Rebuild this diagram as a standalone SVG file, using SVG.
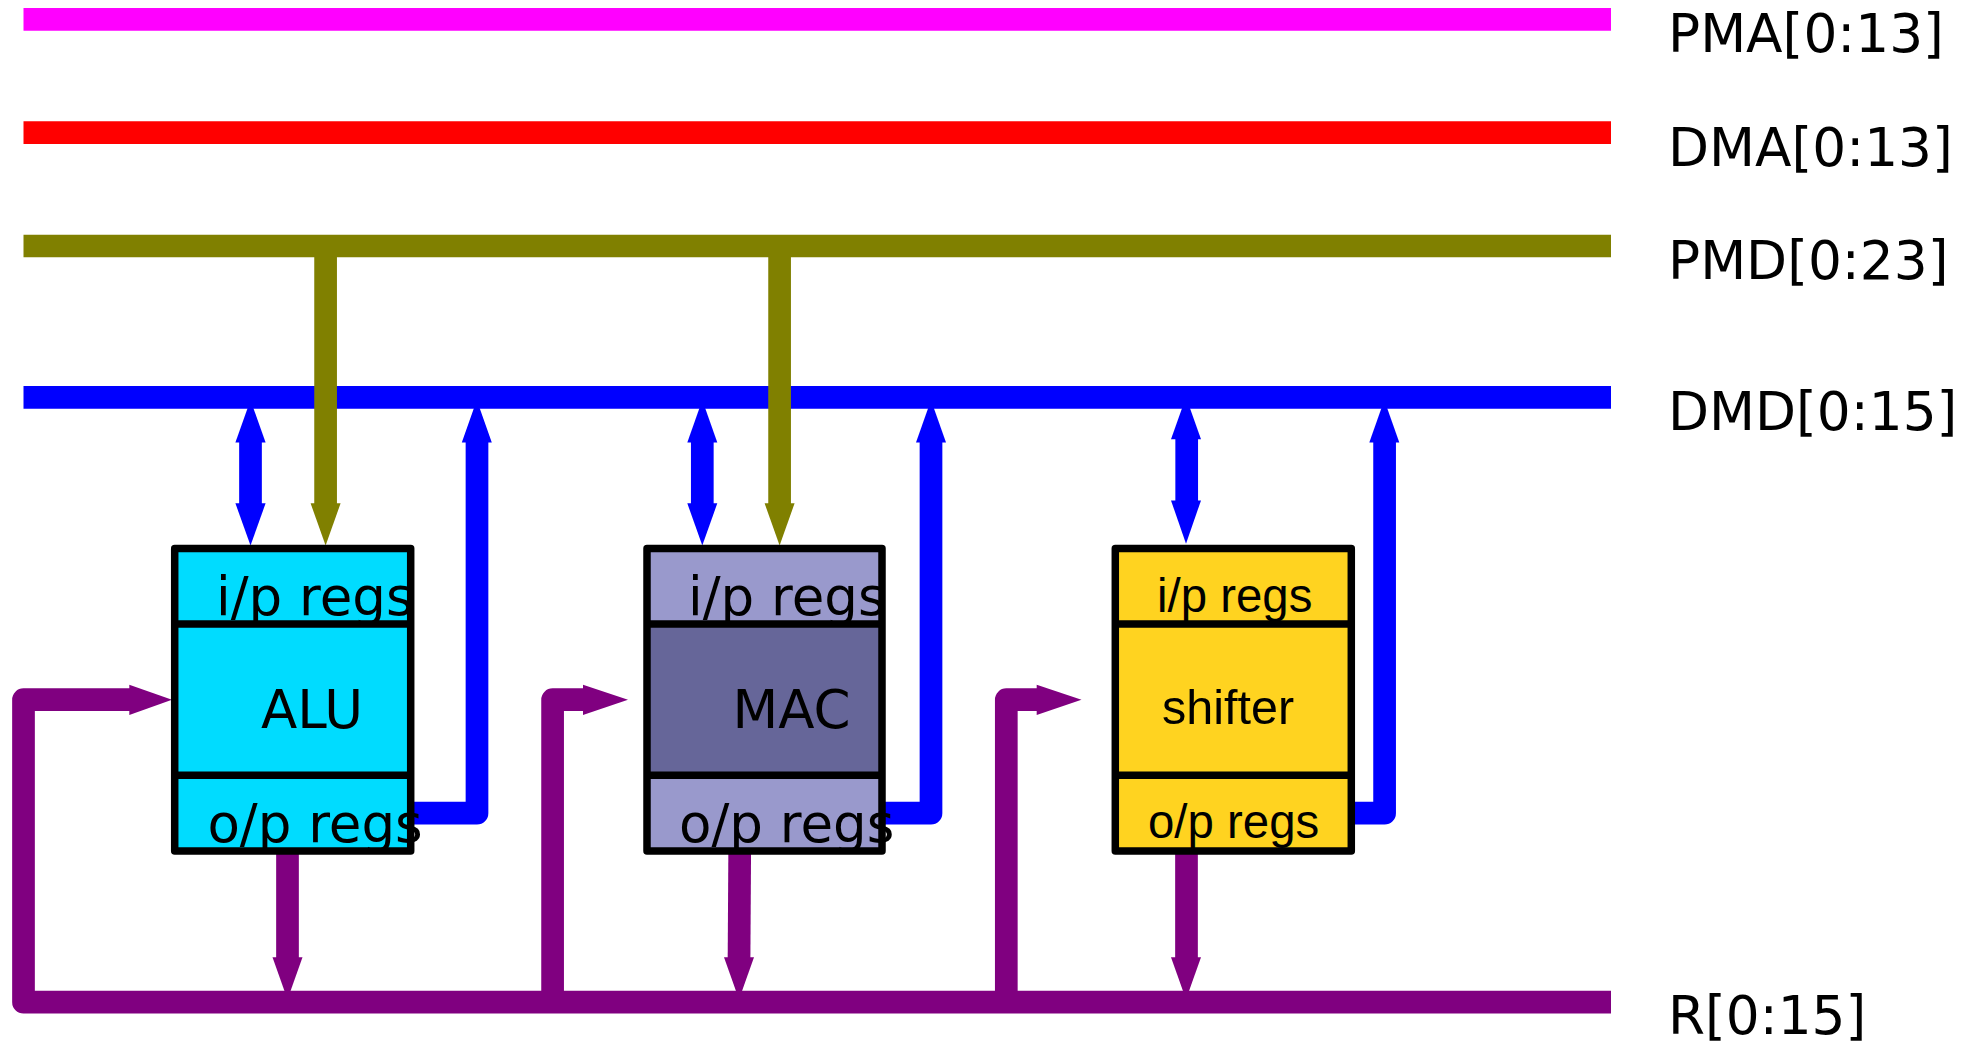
<svg xmlns="http://www.w3.org/2000/svg" width="1961" height="1042" viewBox="0 0 1961 1042">
  <style>
    .w{fill:none;stroke-width:22.7;stroke-linejoin:round;stroke-linecap:butt}
    .bl{stroke:#0000ff}.ol{stroke:#808000}.pu{stroke:#800080}
    .hb{fill:#0000ff}.ho{fill:#808000}.hp{fill:#800080}
    .box{stroke:#000;stroke-width:7.5;stroke-linejoin:round}
    .div{stroke:#000;stroke-width:7.5;fill:none}
    .d{font-family:"DejaVu Sans",sans-serif;font-size:53px;fill:#000}
    .l{font-family:"Liberation Sans",Arial,sans-serif;font-size:47.400px;fill:#000}
    .t{font-family:"DejaVu Sans",sans-serif;font-size:53.300px;fill:#000}
  </style>
  <rect width="1961" height="1042" fill="#fff"/>
  <g id="connectors">
    <path class="w" stroke="#ff00ff" d="M23.500 19.300H1611"/>
    <path class="w" stroke="#ff0000" d="M23.500 132.700H1611"/>
    <path class="w ol" d="M23.500 246H1611"/>
    <path class="w bl" d="M23.500 397.300H1611"/>
    <path class="w pu" d="M134 699.700H23.500V1002.200H1611"/>
    <path class="w pu" d="M588 699.700H552.600V1002"/>
    <path class="w pu" d="M1042 699.700H1006.300V1002"/>

    <path class="w bl" d="M250.500 436V510"/>
    <polygon class="hb" points="250.500,400 265.600,442.500 235.400,442.500"/>
    <polygon class="hb" points="250.500,545.500 265.600,503.300 235.400,503.300"/>
    <path class="w ol" d="M325.600 246V510"/>
    <polygon class="ho" points="325.600,545.500 340.600,503.300 310.600,503.300"/>
    <path class="w bl" d="M414 813.200H477V436"/>
    <polygon class="hb" points="476.800,400 491.800,442.500 461.800,442.500"/>
    <path class="w pu" d="M287.500 852V964"/>
    <polygon class="hp" points="287.500,999.500 302.500,957.300 272.500,957.300"/>
    <polygon class="hp" points="172,699.800 129.300,684.700 129.300,715"/>
    <polygon class="hp" points="628,699.800 583,684.700 583,715"/>

    <path class="w bl" d="M702.300 436V510"/>
    <polygon class="hb" points="702.300,400 717.300,442.500 687.300,442.500"/>
    <polygon class="hb" points="702.300,545.500 717.300,503.300 687.300,503.300"/>
    <path class="w ol" d="M779.600 246V510"/>
    <polygon class="ho" points="779.600,545.500 794.600,503.300 764.600,503.300"/>
    <path class="w bl" d="M885 813.200H931V436"/>
    <polygon class="hb" points="931,400 946,442.500 916,442.500"/>
    <path class="w pu" d="M739.700 852L739 964"/>
    <polygon class="hp" points="739,999.500 754,957.300 724,957.300"/>
    <polygon class="hp" points="1081.500,699.800 1036.700,684.700 1036.700,715"/>

    <path class="w bl" d="M1186.700 433V507"/>
    <polygon class="hb" points="1186,397 1201,439.300 1171,439.300"/>
    <polygon class="hb" points="1186,543.800 1201,500.400 1171,500.400"/>
    <path class="w bl" d="M1354 813.200H1384.600V436"/>
    <polygon class="hb" points="1384.300,400 1399.300,442.500 1369.300,442.500"/>
    <path class="w pu" d="M1186.500 852V964"/>
    <polygon class="hp" points="1186,999.500 1201,957.300 1171,957.300"/>
  </g>
  <g id="alu">
    <rect x="174.700" y="548.500" width="236" height="302.500" fill="#00dcff"/>
    <text class="d" x="216" y="615">i/p regs</text>
    <text class="d" x="261" y="728.400">ALU</text>
    <text class="d" x="207.400" y="841.700">o/p regs</text>
    <rect class="box" x="174.700" y="548.500" width="236" height="302.500" fill="none"/>
    <path class="div" d="M174.700 624H410.700M174.700 775.200H410.700"/>
  </g>
  <g id="mac">
    <rect x="647" y="548.500" width="235" height="302.500" fill="#9999cc"/>
    <rect x="647" y="624" width="235" height="151.200" fill="#666699"/>
    <text class="d" x="688" y="615">i/p regs</text>
    <text class="d" x="732.500" y="728.400">MAC</text>
    <text class="d" x="679" y="841.700">o/p regs</text>
    <rect class="box" x="647" y="548.500" width="235" height="302.500" fill="none"/>
    <path class="div" d="M647 624H882M647 775.200H882"/>
  </g>
  <g id="shifter">
    <rect x="1115.300" y="548.500" width="236" height="302.500" fill="#ffd320"/>
    <text class="l" x="1157" y="612.300">i/p regs</text>
    <text class="l" x="1162" y="724.200" style="font-size:48.500px">shifter</text>
    <text class="l" x="1148" y="837.700">o/p regs</text>
    <rect class="box" x="1115.300" y="548.500" width="236" height="302.500" fill="none"/>
    <path class="div" d="M1115.300 624H1351.300M1115.300 775.200H1351.300"/>
  </g>
  <g id="bus-labels">
    <text class="t" x="1668" y="52.300">PMA[0:13]</text>
    <text class="t" x="1668" y="165.700">DMA[0:13]</text>
    <text class="t" x="1668" y="279">PMD[0:23]</text>
    <text class="t" x="1668" y="430">DMD[0:15]</text>
    <text class="t" x="1668" y="1034">R[0:15]</text>
  </g>
</svg>
